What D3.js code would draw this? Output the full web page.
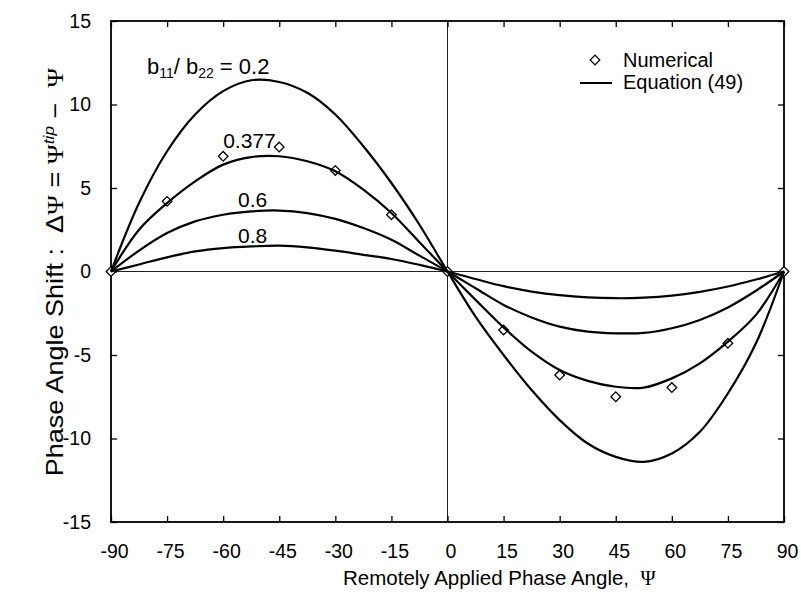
<!DOCTYPE html>
<html>
<head>
<meta charset="utf-8">
<script src="https://d3js.org/d3.v7.min.js"></script>
<style>
body { margin: 0; background: #fff; }
svg text { font-family: "Liberation Sans", Arial, Helvetica, sans-serif; fill: #000; }
.psi { font-family: "Liberation Serif", "DejaVu Serif", serif; }
</style>
</head>
<body>
<svg id="chart" width="801" height="605"></svg>
<script>
var psi = [-90, -82.5, -75, -67.5, -60, -52.5, -45, -37.5, -30, -22.5, -15, -7.5, 0,
           7.5, 15, 22.5, 30, 37.5, 45, 52.5, 60, 67.5, 75, 82.5, 90];

// Equation (49), one array per b11/b22
var eq02  = [0, 4.1, 7.2, 9.4, 10.8, 11.45, 11.35, 10.7, 9.4, 7.5, 5.3, 2.8, 0,
             -2.7, -5.0, -7.1, -8.9, -10.3, -11.1, -11.4, -10.9, -9.6, -7.3, -4.3, 0];
var eq0377 = [0, 2.5, 4.1, 5.4, 6.4, 6.85, 6.9, 6.6, 6.0, 4.9, 3.5, 1.75, 0,
             -1.7, -3.35, -4.8, -5.9, -6.55, -6.9, -6.95, -6.4, -5.5, -4.2, -2.6, 0];
var eq06  = [0, 1.25, 2.3, 3.0, 3.4, 3.6, 3.65, 3.5, 3.15, 2.6, 1.9, 0.95, 0,
             -1.0, -2.0, -2.75, -3.3, -3.6, -3.7, -3.68, -3.4, -2.9, -2.15, -1.15, 0];
var eq08  = [0, 0.42, 0.85, 1.2, 1.4, 1.5, 1.55, 1.45, 1.25, 1.0, 0.75, 0.4, 0,
             -0.45, -0.88, -1.2, -1.42, -1.55, -1.6, -1.57, -1.45, -1.22, -0.9, -0.48, 0];

// numerical results (b11/b22 = 0.377)
var psiNum = [-90, -75, -60, -45, -30, -15, 0, 15, 30, 45, 60, 75, 90];
var numVals = [0, 4.2, 6.9, 7.45, 6.05, 3.4, 0, -3.5, -6.2, -7.5, -6.95, -4.3, 0];

var xTicks = [-90, -75, -60, -45, -30, -15, 0, 15, 30, 45, 60, 75, 90];
var yTicks = [-15, -10, -5, 0, 5, 10, 15];

var svg = d3.select("#chart");

var x = d3.scaleLinear().domain([-90, 90]).range([111, 784]);
var y = d3.scaleLinear().domain([-15, 15]).range([522, 21]);

// zero lines
svg.append("line")
    .attr("x1", x(-90)).attr("x2", x(90))
    .attr("y1", y(0)).attr("y2", y(0))
    .attr("stroke", "#222").attr("stroke-width", 1);
svg.append("line")
    .attr("x1", x(0)).attr("x2", x(0))
    .attr("y1", y(-15)).attr("y2", y(15))
    .attr("stroke", "#222").attr("stroke-width", 1);

// axes, ticks pointing inward on all four sides
function styleAxis(g) {
    g.select(".domain").remove();
    g.selectAll(".tick line").attr("stroke", "#000").attr("stroke-width", 1.3);
    g.selectAll(".tick text").style("font-size", "19.5px").attr("fill", "#000");
}
var plain = function(d) { return String(d); }; // keep the ascii hyphen

svg.append("g")
    .attr("transform", "translate(0," + y(-15) + ")")
    .call(d3.axisBottom(x).tickValues(xTicks).tickSize(-6).tickPadding(22).tickFormat(plain))
    .call(styleAxis)
    .selectAll(".tick text").attr("dx", 3);

svg.append("g")
    .attr("transform", "translate(0," + y(15) + ")")
    .call(d3.axisTop(x).tickValues(xTicks).tickSize(-6).tickFormat(""))
    .call(styleAxis);

svg.append("g")
    .attr("transform", "translate(" + x(-90) + ",0)")
    .call(d3.axisLeft(y).tickValues(yTicks).tickSize(-6).tickPadding(20).tickFormat(plain))
    .call(styleAxis);

svg.append("g")
    .attr("transform", "translate(" + x(90) + ",0)")
    .call(d3.axisRight(y).tickValues(yTicks).tickSize(-6).tickFormat(""))
    .call(styleAxis);

// frame
svg.append("rect")
    .attr("x", x(-90)).attr("y", y(15))
    .attr("width", x(90) - x(-90)).attr("height", y(-15) - y(15))
    .attr("fill", "none").attr("stroke", "#000").attr("stroke-width", 1.8);

// numerical points
var diamond = d3.symbol().type(d3.symbolSquare).size(46);
svg.selectAll(".num")
    .data(psiNum)
    .enter().append("path")
    .attr("class", "num")
    .attr("d", diamond)
    .attr("transform", function(d, i) {
        return "translate(" + x(d) + "," + y(numVals[i]) + ") rotate(45)";
    })
    .attr("fill", "#fff").attr("stroke", "#000").attr("stroke-width", 1.3);

// equation curves
var line = d3.line()
    .x(function(d) { return x(d[0]); })
    .y(function(d) { return y(d[1]); })
    .curve(d3.curveCatmullRom.alpha(0.5));

[eq02, eq0377, eq06, eq08].forEach(function(vals) {
    svg.append("path")
        .datum(psi.map(function(p, i) { return [p, vals[i]]; }))
        .attr("d", line)
        .attr("fill", "none")
        .attr("stroke", "#000")
        .attr("stroke-width", 2.2);
});

// curve labels
var lab = svg.append("text")
    .attr("x", x(-80.4)).attr("y", y(11.8))
    .style("font-size", "22px");
lab.append("tspan").text("b");
lab.append("tspan").attr("dy", 4).style("font-size", "14px").text("11");
lab.append("tspan").attr("dy", -4).text("/ b");
lab.append("tspan").attr("dy", 4).style("font-size", "14px").text("22");
lab.append("tspan").attr("dy", -4).text(" = 0.2");

svg.append("text").attr("x", x(-60)).attr("y", y(7.4))
    .style("font-size", "21px").text("0.377");
svg.append("text").attr("x", x(-56)).attr("y", y(3.86))
    .style("font-size", "21px").text("0.6");
svg.append("text").attr("x", x(-56)).attr("y", y(1.7))
    .style("font-size", "21px").text("0.8");

// legend
svg.append("path")
    .attr("d", diamond)
    .attr("transform", "translate(595,60) rotate(45)")
    .attr("fill", "#fff").attr("stroke", "#000").attr("stroke-width", 1.3);
svg.append("text").attr("x", 623).attr("y", 67)
    .style("font-size", "20px").text("Numerical");
svg.append("line")
    .attr("x1", 580).attr("x2", 612).attr("y1", 83).attr("y2", 83)
    .attr("stroke", "#000").attr("stroke-width", 2);
svg.append("text").attr("x", 623).attr("y", 89)
    .style("font-size", "20px").text("Equation (49)");

// x axis title
var xt = svg.append("text")
    .attr("x", 343).attr("y", 585)
    .style("font-size", "20.5px")
    .style("white-space", "pre");
xt.append("tspan").text("Remotely Applied Phase Angle,  ");
xt.append("tspan").attr("class", "psi").text("Ψ");

// y axis title, stretched a little along its length like the scan
var yt = svg.append("text")
    .attr("transform", "translate(63,272) rotate(-90) scale(1.15,1)")
    .attr("text-anchor", "middle")
    .style("font-size", "23.5px")
    .style("white-space", "pre");
yt.append("tspan").text("Phase Angle Shift :  Δ");
yt.append("tspan").attr("class", "psi").text("Ψ");
yt.append("tspan").text(" = ");
yt.append("tspan").attr("class", "psi").text("Ψ");
yt.append("tspan").attr("dy", -9).style("font-size", "15px").style("font-style", "italic").text("tip");
yt.append("tspan").attr("dy", 9).text(" −  ");
yt.append("tspan").attr("class", "psi").text("Ψ");
</script>
</body>
</html>
